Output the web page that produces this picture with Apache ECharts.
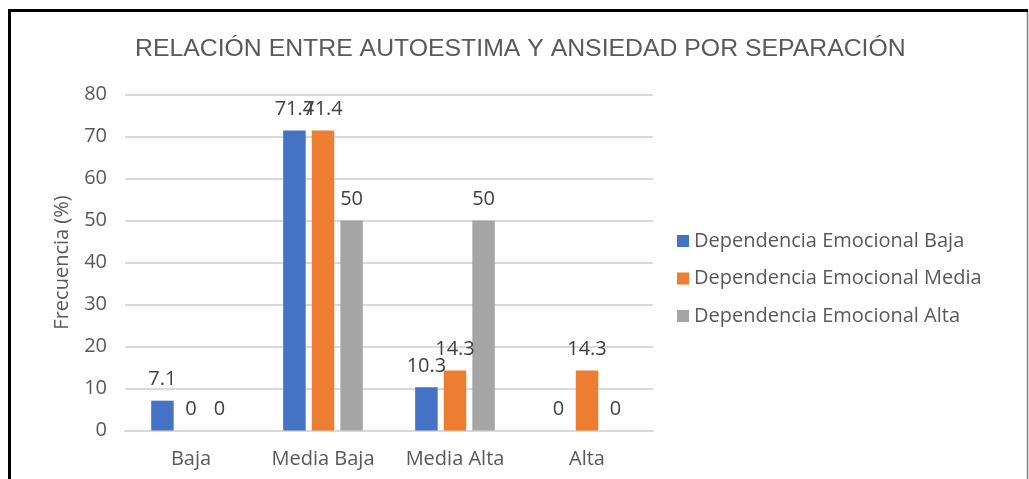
<!DOCTYPE html>
<html>
<head>
<meta charset="utf-8">
<script src="https://cdn.jsdelivr.net/npm/echarts@6/dist/echarts.min.js"></script>
<style>
html,body{margin:0;padding:0;background:#fff;}
#c{width:1029px;height:479px;}
</style>
</head>
<body>
<div id="c"></div>
<script>
const titleText = 'RELACIÓN ENTRE AUTOESTIMA Y ANSIEDAD POR SEPARACIÓN';
const categories = ['Baja', 'Media Baja', 'Media Alta', 'Alta'];
const seriesNames = ['Dependencia Emocional Baja', 'Dependencia Emocional Media', 'Dependencia Emocional Alta'];
const depBaja = [7.1, 71.4, 10.3, 0];
const depMedia = [0, 71.4, 14.3, 14.3];
const depAlta = [0, 50, 50, 0];
const yTicks = [0, 10, 20, 30, 40, 50, 60, 70, 80];
const colors = ['#4472C4', '#ED7D31', '#A5A5A5'];

const FONT = 'Open Sans';
const chart = echarts.init(document.getElementById('c'), null, {renderer: 'canvas'});

const allData = [depBaja, depMedia, depAlta];
const series = allData.map((d, i) => ({
  name: seriesNames[i],
  type: 'bar',
  data: d,
  barWidth: 22.5,
  barGap: '27%',
  itemStyle: {color: colors[i]},
  label: {
    show: true,
    position: 'top',
    distance: 11,
    color: '#404040',
    fontFamily: FONT,
    fontSize: 20,
    formatter: p => String(p.value)
  },
  labelLayout: {hideOverlap: false}
}));

chart.setOption({
  animation: false,
  backgroundColor: '#ffffff',
  title: {
    text: titleText,
    left: 130,
    top: 32,
    textStyle: {fontFamily: 'Liberation Sans', fontSize: 24.8, fontWeight: 'normal', color: '#595959'}
  },
  legend: {
    orient: 'vertical',
    left: 672,
    top: 226,
    itemWidth: 12,
    itemHeight: 12,
    itemGap: 17.5,
    icon: 'rect',
    textStyle: {fontFamily: FONT, fontSize: 20, color: '#595959'},
    data: seriesNames
  },
  grid: {left: 125, right: 376, top: 94.5, bottom: 48.5, containLabel: false},
  xAxis: {
    type: 'category',
    data: categories,
    axisLine: {show: true, lineStyle: {color: '#D9D9D9', width: 2}},
    axisTick: {show: false},
    axisLabel: {fontFamily: FONT, fontSize: 20, color: '#595959', margin: 19, interval: 0}
  },
  yAxis: {
    type: 'value',
    min: 0,
    max: 80,
    interval: 10,
    name: 'Frecuencia (%)',
    nameLocation: 'middle',
    nameGap: 53,
    nameRotate: 90,
    nameTextStyle: {fontFamily: FONT, fontSize: 20, color: '#595959'},
    axisLine: {show: false},
    axisTick: {show: false},
    splitLine: {lineStyle: {color: '#D9D9D9', width: 2}},
    axisLabel: {fontFamily: FONT, fontSize: 20, color: '#595959', margin: 18,
      formatter: v => yTicks.includes(v) ? String(v) : ''}
  },
  graphic: [
    {type: 'line', silent: true, shape: {x1: 9.5, y1: 10, x2: 9.5, y2: 479}, style: {stroke: '#000', lineWidth: 3}},
    {type: 'line', silent: true, shape: {x1: 8, y1: 10.5, x2: 1028, y2: 10.5}, style: {stroke: '#000', lineWidth: 3}},
    {type: 'line', silent: true, shape: {x1: 1027.5, y1: 12, x2: 1027.5, y2: 479}, style: {stroke: '#808080', lineWidth: 1.5}}
  ],
  series: series
});
</script>
</body>
</html>
